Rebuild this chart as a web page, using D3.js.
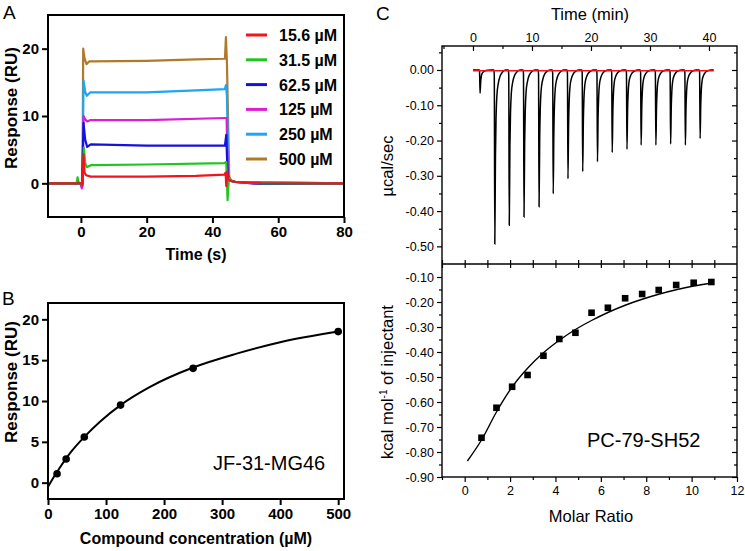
<!DOCTYPE html>
<html>
<head>
<meta charset="utf-8">
<script src="https://cdn.jsdelivr.net/npm/d3@7"></script>
<style>
  body { margin: 0; background: #fff; }
  svg { display: block; font-family: Arial, "Liberation Sans", sans-serif; }
</style>
</head>
<body>
<div id="chart"></div>
<script>
/* global d3 */

// ---- panel A: sensorgrams, [time (s), response (RU)] ----
const concLabels = ['15.6 µM', '31.5 µM', '62.5 µM', '125 µM', '250 µM', '500 µM'];
const concColors = ['#f2141c', '#22c41e', '#1212dc', '#dc1ed2', '#1ea6f0', '#b07a2c'];

const trace156 = [[-10, 0], [-1.2, 0], [-0.8, 0.1], [0.3, 0], [0.5, -0.3], [0.8, 4.3], [1.1, 1.6],
  [1.6, 1.2], [3, 1.0], [20, 1.0], [35, 1.1], [43.6, 1.3], [44, 1.6], [44.2, -0.4], [44.5, 1.7],
  [44.8, 0.6], [45.5, 0.4], [47, 0.2], [55, 0.05], [80, 0]];
const trace315 = [[-10, 0], [-1.3, 0], [-1.0, 0.9], [-0.7, 0], [0.5, 0], [0.9, 5.3], [1.3, 3.0],
  [1.8, 2.4], [3, 2.7], [20, 2.8], [43.6, 3.0], [44.2, 3.2], [44.6, -2.5], [45, 0.8], [45.6, 0.4],
  [47, 0.2], [55, 0], [80, 0]];
const trace625 = [[-10, 0], [0.4, 0], [0.8, 9.0], [1.3, 6.5], [1.9, 5.4], [3, 5.8], [20, 5.6],
  [43.8, 5.6], [44.2, 7.2], [44.6, 1.5], [45.2, 0.4], [47, 0.2], [55, -0.1], [80, 0]];
const trace125 = [[-10, 0], [-0.2, 0], [0.3, -0.75], [0.5, 0], [0.8, 10.0], [1.3, 9.5], [1.9, 9.2],
  [3, 9.4], [20, 9.4], [43.8, 9.7], [44.3, 9.7], [44.7, 1.0], [45.3, 0.4], [47, 0.2], [55, -0.1], [80, 0]];
const trace250 = [[-10, 0], [0.5, 0], [0.8, 15.3], [1.3, 13.6], [1.8, 13.0], [2.8, 13.5], [20, 13.5],
  [35, 13.8], [43.8, 14.0], [44.1, 14.6], [44.4, 13.0], [44.9, 1.0], [45.5, 0.4], [47, 0.2], [80, 0]];
const trace500 = [[-10, 0], [0.5, 0], [0.7, 20.0], [1.1, 18.6], [1.7, 17.7], [2.5, 18.1], [20, 18.2],
  [35, 18.4], [43.8, 18.5], [44.1, 21.7], [44.4, 18.0], [45.1, 1.0], [45.7, 0.4], [47, 0.2], [80, 0]];
const sensorgrams = [trace156, trace315, trace625, trace125, trace250, trace500];

// ---- panel B: steady-state binding ----
const bindConc = [15.6, 31.25, 62.5, 125, 250, 500];
const bindResp = [1.1, 2.9, 5.6, 9.5, 14.0, 18.5];
const bindFitConc = [0, 10, 20, 40, 62.5, 90, 125, 175, 250, 325, 400, 500];
const bindFitResp = [-0.5, 0.7, 1.8, 3.8, 5.6, 7.5, 9.5, 11.7, 14.1, 15.8, 17.2, 18.5];

// ---- panel C: ITC ----
const injTime = [1.2, 3.7, 6.15, 8.65, 11.2, 13.6, 16.1, 18.6, 21.1, 23.6, 26.1, 28.5, 31.0, 33.5, 36.0, 38.5];
const injPeak = [-0.066, -0.493, -0.44, -0.417, -0.388, -0.351, -0.308, -0.288, -0.26, -0.234,
  -0.225, -0.213, -0.213, -0.21, -0.213, -0.194];
// shape of one injection peak: [minutes after start, fraction of peak depth]
const peakShape = [[0, 0], [0.06, 0.03], [0.15, 1], [0.26, 0.5], [0.36, 0.28], [0.5, 0.15],
  [0.75, 0.075], [1.05, 0.035], [1.5, 0.01], [2.0, 0]];
const molarRatio = [0.74, 1.40, 2.09, 2.77, 3.47, 4.17, 4.88, 5.59, 6.31, 7.07, 7.82, 8.55, 9.32, 10.09, 10.87];
const heat = [-0.743, -0.623, -0.539, -0.492, -0.415, -0.348, -0.323, -0.243, -0.223, -0.185,
  -0.168, -0.152, -0.132, -0.123, -0.120];
const fitRatio = [0.12, 0.74, 1.40, 2.09, 2.77, 3.47, 4.17, 4.88, 5.59, 6.31, 7.07, 7.82, 8.55, 9.32, 10.09, 10.87];
const fitHeat = [-0.836, -0.752, -0.640, -0.540, -0.465, -0.403, -0.353, -0.310, -0.274, -0.242,
  -0.213, -0.189, -0.169, -0.151, -0.136, -0.124];

const W = 745;
const H = 551;
const svg = d3.select('#chart').append('svg').attr('width', W).attr('height', H);

const styleAxis = function styleAxis(g, size, weight, sw) {
  g.select('.domain').remove();
  g.selectAll('.tick line').attr('stroke', '#000').attr('stroke-width', sw);
  g.selectAll('.tick text')
    .attr('fill', '#000')
    .attr('font-size', size)
    .attr('font-weight', weight)
    .attr('font-family', 'Arial, "Liberation Sans", sans-serif');
};

const frame = function frame(x0, y0, x1, y1, sw) {
  svg.append('rect')
    .attr('x', x0).attr('y', y0)
    .attr('width', x1 - x0).attr('height', y1 - y0)
    .attr('fill', 'none').attr('stroke', '#000').attr('stroke-width', sw);
};

const label = function label(txt, x, y, size, weight, rotate, anchor) {
  const t = svg.append('text')
    .attr('font-size', size)
    .attr('font-weight', weight || 'normal')
    .attr('text-anchor', anchor || 'middle')
    .text(txt);
  if (rotate) {
    t.attr('transform', `translate(${x},${y}) rotate(-90)`);
  } else {
    t.attr('x', x).attr('y', y);
  }
  return t;
};

// ===== panel A =====
const xA = d3.scaleLinear().domain([-10, 80]).range([48, 344]);
const yA = d3.scaleLinear().domain([-5, 25]).range([217, 15]);

svg.append('g').attr('transform', 'translate(0,217)')
  .call(d3.axisBottom(xA).tickValues([0, 20, 40, 60, 80]).tickSize(6).tickPadding(3))
  .call(g => styleAxis(g, 15, 'bold', 2));
svg.append('g').attr('transform', 'translate(48,0)')
  .call(d3.axisLeft(yA).tickValues([0, 10, 20]).tickSize(6).tickPadding(3))
  .call(g => styleAxis(g, 15, 'bold', 2));

const lineA = d3.line().x(d => xA(d[0])).y(d => yA(d[1]));
for (let i = sensorgrams.length - 1; i >= 0; i -= 1) {
  svg.append('path')
    .datum(sensorgrams[i])
    .attr('d', lineA)
    .attr('fill', 'none')
    .attr('stroke', concColors[i])
    .attr('stroke-width', 2.2)
    .attr('stroke-linejoin', 'round');
}
frame(48, 15, 344, 217, 2);

const legend = svg.append('g');
concLabels.forEach((c, i) => {
  const y = 35 + i * 24.8;
  legend.append('line')
    .attr('x1', 246).attr('x2', 267).attr('y1', y).attr('y2', y)
    .attr('stroke', concColors[i]).attr('stroke-width', 3);
  legend.append('text')
    .attr('x', 279).attr('y', y + 6)
    .attr('font-size', 16).attr('font-weight', 'bold')
    .text(c);
});

label('Time (s)', 196, 260, 16, 'bold');
label('Response (RU)', 17, 108, 17, 'bold', true);
label('A', 3, 19, 19, 'normal', false, 'start');

// ===== panel B =====
const xB = d3.scaleLinear().domain([0, 510]).range([48, 344]);
const yB = d3.scaleLinear().domain([-2, 22]).range([499, 303]);

svg.append('g').attr('transform', 'translate(0,499)')
  .call(d3.axisBottom(xB).tickValues([0, 100, 200, 300, 400, 500]).tickSize(6).tickPadding(3))
  .call(g => styleAxis(g, 15, 'bold', 2));
svg.append('g').attr('transform', 'translate(48,0)')
  .call(d3.axisLeft(yB).tickValues([0, 5, 10, 15, 20]).tickSize(6).tickPadding(3))
  .call(g => styleAxis(g, 15, 'bold', 2));

svg.append('path')
  .datum(bindFitConc.map((c, i) => [c, bindFitResp[i]]))
  .attr('d', d3.line().x(d => xB(d[0])).y(d => yB(d[1])).curve(d3.curveMonotoneX))
  .attr('fill', 'none').attr('stroke', '#000').attr('stroke-width', 2);
svg.append('g').selectAll('circle')
  .data(bindConc)
  .enter().append('circle')
  .attr('cx', d => xB(d))
  .attr('cy', (d, i) => yB(bindResp[i]))
  .attr('r', 3.8)
  .attr('fill', '#000');
frame(48, 303, 344, 499, 2);

label('JF-31-MG46', 213, 470, 20, 'normal', false, 'start');
label('Compound concentration (µM)', 196, 544, 16, 'bold');
label('Response (RU)', 17, 382, 17, 'bold', true);
label('B', 2, 305, 19, 'normal', false, 'start');

// ===== panel C top: raw thermogram =====
const xCt = d3.scaleLinear().domain([-5.25, 44.75]).range([442, 737]);
const yCt = d3.scaleLinear().domain([-0.55, 0.068]).range([264, 46]);
const fmt2 = d => d.toFixed(2);

svg.append('g').attr('transform', 'translate(0,46)')
  .call(d3.axisTop(xCt).tickValues([0, 10, 20, 30, 40]).tickSize(-5).tickPadding(4))
  .call(g => styleAxis(g, 12.5, 'normal', 1.2));
svg.append('g').attr('transform', 'translate(0,46)')
  .call(d3.axisTop(xCt).tickValues([-5, 5, 15, 25, 35]).tickSize(-3).tickFormat(''))
  .call(g => styleAxis(g, 12, 'normal', 1.2));
svg.append('g').attr('transform', 'translate(442,0)')
  .call(d3.axisLeft(yCt).tickValues([0, -0.1, -0.2, -0.3, -0.4, -0.5]).tickSize(5).tickPadding(3).tickFormat(fmt2))
  .call(g => styleAxis(g, 12.5, 'normal', 1.2));
svg.append('g').attr('transform', 'translate(442,0)')
  .call(d3.axisLeft(yCt).tickValues([0.05, -0.05, -0.15, -0.25, -0.35, -0.45]).tickSize(3).tickFormat(''))
  .call(g => styleAxis(g, 12, 'normal', 1.2));
svg.append('g').attr('transform', 'translate(737,0)')
  .call(d3.axisRight(yCt).tickValues([0, -0.1, -0.2, -0.3, -0.4, -0.5]).tickSize(-5).tickFormat(''))
  .call(g => styleAxis(g, 12, 'normal', 1.2));
svg.append('g').attr('transform', 'translate(737,0)')
  .call(d3.axisRight(yCt).tickValues([0.05, -0.05, -0.15, -0.25, -0.35, -0.45]).tickSize(-3).tickFormat(''))
  .call(g => styleAxis(g, 12, 'normal', 1.2));

const thermo = [[0, 0]];
injTime.forEach((t0, i) => {
  peakShape.forEach(([dt, f]) => thermo.push([t0 - 0.15 + dt, f * injPeak[i]]));
});
thermo.push([40.8, 0]);

svg.append('path')
  .datum(thermo)
  .attr('d', d3.line().x(d => xCt(d[0])).y(d => yCt(d[1])).curve(d3.curveMonotoneX))
  .attr('fill', 'none').attr('stroke', '#000').attr('stroke-width', 1.5);
svg.append('line')
  .attr('x1', xCt(0)).attr('x2', xCt(40.8))
  .attr('y1', yCt(-0.002)).attr('y2', yCt(-0.002))
  .attr('stroke', '#e8141c').attr('stroke-width', 1.6);

// ===== panel C bottom: integrated heats =====
const xCb = d3.scaleLinear().domain([-1, 12]).range([442, 737]);
const yCb = d3.scaleLinear().domain([-0.90, -0.048]).range([477, 264]);

svg.append('g').attr('transform', 'translate(0,477)')
  .call(d3.axisBottom(xCb).tickValues([0, 2, 4, 6, 8, 10, 12]).tickSize(5).tickPadding(4))
  .call(g => styleAxis(g, 12.5, 'normal', 1.2));
svg.append('g').attr('transform', 'translate(0,477)')
  .call(d3.axisBottom(xCb).tickValues([-1, 1, 3, 5, 7, 9, 11]).tickSize(3).tickFormat(''))
  .call(g => styleAxis(g, 12, 'normal', 1.2));
// shared divider ticks: down into bottom plot, up into top plot
svg.append('g').attr('transform', 'translate(0,264)')
  .call(d3.axisBottom(xCb).tickValues([-1, 0, 1, 2, 3, 4, 5, 6, 7, 8, 9, 10, 11]).tickSize(-4).tickFormat(''))
  .call(g => styleAxis(g, 12, 'normal', 1.2));
svg.append('g').attr('transform', 'translate(0,264)')
  .call(d3.axisTop(xCb).tickValues([-1, 0, 1, 2, 3, 4, 5, 6, 7, 8, 9, 10, 11]).tickSize(-4).tickFormat(''))
  .call(g => styleAxis(g, 12, 'normal', 1.2));
const heatTicks = [-0.1, -0.2, -0.3, -0.4, -0.5, -0.6, -0.7, -0.8, -0.9];
const heatMinor = [-0.15, -0.25, -0.35, -0.45, -0.55, -0.65, -0.75, -0.85];
svg.append('g').attr('transform', 'translate(442,0)')
  .call(d3.axisLeft(yCb).tickValues(heatTicks).tickSize(5).tickPadding(3).tickFormat(fmt2))
  .call(g => styleAxis(g, 12.5, 'normal', 1.2));
svg.append('g').attr('transform', 'translate(442,0)')
  .call(d3.axisLeft(yCb).tickValues(heatMinor).tickSize(3).tickFormat(''))
  .call(g => styleAxis(g, 12, 'normal', 1.2));
svg.append('g').attr('transform', 'translate(737,0)')
  .call(d3.axisRight(yCb).tickValues(heatTicks).tickSize(-5).tickFormat(''))
  .call(g => styleAxis(g, 12, 'normal', 1.2));
svg.append('g').attr('transform', 'translate(737,0)')
  .call(d3.axisRight(yCb).tickValues(heatMinor).tickSize(-3).tickFormat(''))
  .call(g => styleAxis(g, 12, 'normal', 1.2));

svg.append('path')
  .datum(fitRatio.map((r, i) => [r, fitHeat[i]]))
  .attr('d', d3.line().x(d => xCb(d[0])).y(d => yCb(d[1])).curve(d3.curveMonotoneX))
  .attr('fill', 'none').attr('stroke', '#000').attr('stroke-width', 1.4);
svg.append('g').selectAll('rect')
  .data(molarRatio)
  .enter().append('rect')
  .attr('x', d => xCb(d) - 3.3)
  .attr('y', (d, i) => yCb(heat[i]) - 3.3)
  .attr('width', 6.6)
  .attr('height', 6.6)
  .attr('fill', '#000');

frame(442, 46, 737, 477, 1.4);
svg.append('line').attr('x1', 442).attr('x2', 737).attr('y1', 264).attr('y2', 264)
  .attr('stroke', '#000').attr('stroke-width', 1.4);

label('Time (min)', 590, 20, 16.5);
label('µcal/sec', 393, 166, 16.5, 'normal', true);
const kcal = label('kcal mol', 393, 382, 16.5, 'normal', true);
kcal.append('tspan').attr('dy', -6).attr('font-size', 10).text('-1');
kcal.append('tspan').attr('dy', 6).text(' of injectant');
label('Molar Ratio', 591, 522, 16.5);
label('PC-79-SH52', 587, 447, 20, 'normal', false, 'start');
label('C', 376, 20, 19, 'normal', false, 'start');
</script>
</body>
</html>
